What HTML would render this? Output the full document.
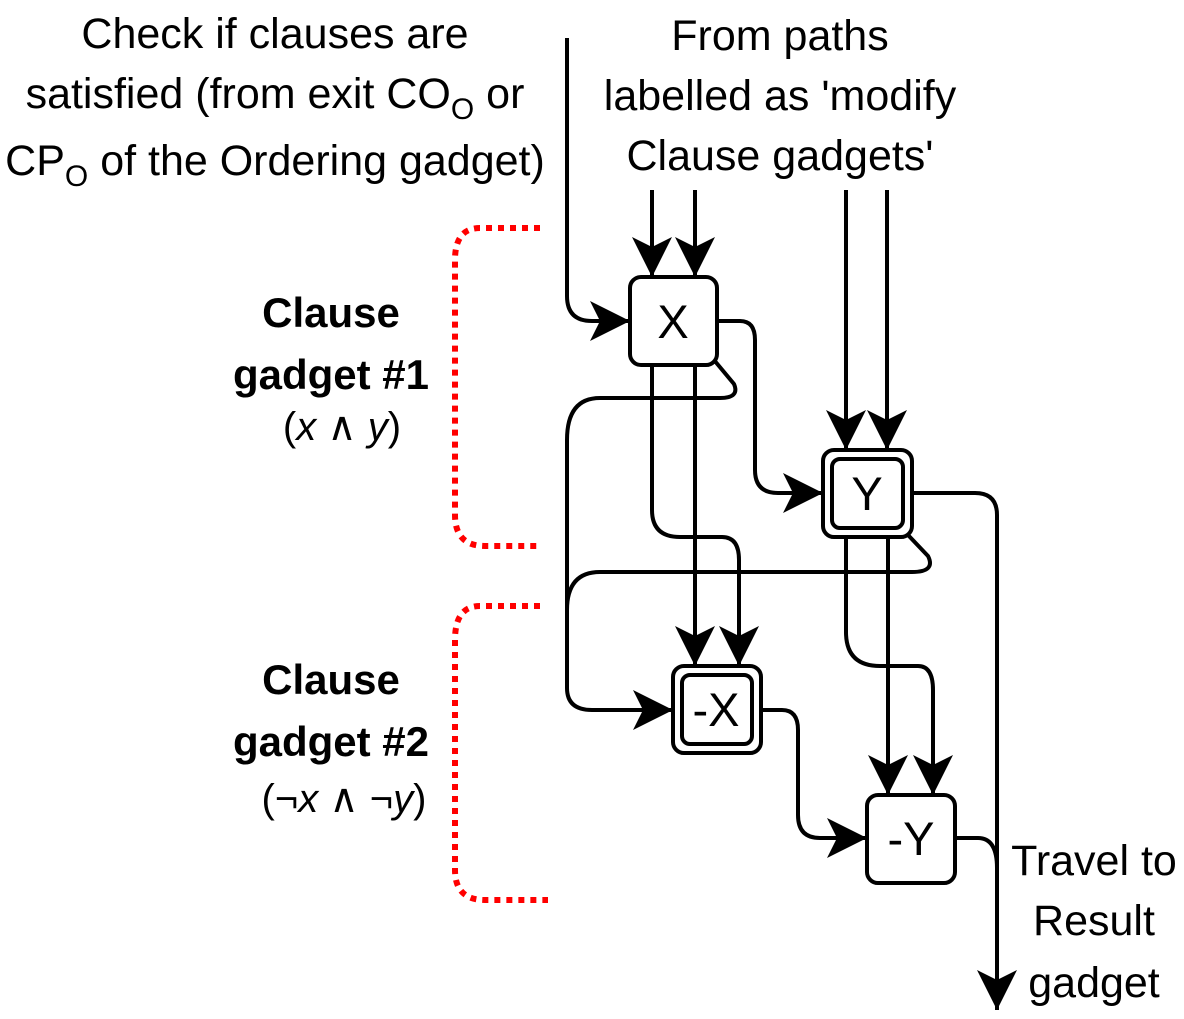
<!DOCTYPE html>
<html><head><meta charset="utf-8"><style>
html,body{margin:0;padding:0;background:#fff;}
svg{display:block;}
text{font-family:"Liberation Sans",sans-serif;fill:#000;}
</style></head><body>
<svg width="1184" height="1019" viewBox="0 0 1184 1019" xmlns="http://www.w3.org/2000/svg">
<defs>
<marker id="a" markerUnits="userSpaceOnUse" markerWidth="44" markerHeight="44" refX="40" refY="22" orient="auto" viewBox="0 0 44 44">
<path d="M0,2 L40,22 L0,42 L10,22 Z" fill="#000"/>
</marker>
</defs>
<g fill="none" stroke="#000" stroke-width="4">
<path d="M567,38 V296 Q567,321 592,321 H630" marker-end="url(#a)"/>
<path d="M652,190 V277" marker-end="url(#a)"/>
<path d="M695,190 V277" marker-end="url(#a)"/>
<path d="M846,190 V450" marker-end="url(#a)"/>
<path d="M887,190 V450" marker-end="url(#a)"/>
<path d="M717,321 H740 Q755,321 755,340 V470 Q755,493 778,493 H823" marker-end="url(#a)"/>
<path d="M714,360 L734,384 Q740,398 720,398 H600 Q567,398 567,440 V688 Q567,710 592,710 H673" marker-end="url(#a)"/>
<path d="M908,535 L928,556 Q936,572 912,572 H600 Q567,572 567,610"/>
<path d="M652,365 V510 Q652,537 680,537 H722 Q739,537 739,560 V666" marker-end="url(#a)"/>
<path d="M695,365 V666" marker-end="url(#a)"/>
<path d="M846,537 V632 Q846,666 880,666 H918 Q933,666 933,690 V795" marker-end="url(#a)"/>
<path d="M888,537 V795" marker-end="url(#a)"/>
<path d="M761,710 H782 Q798,710 798,730 V815 Q798,838 820,838 H867" marker-end="url(#a)"/>
<path d="M912,493 H975 Q997,493 997,515 V1010" marker-end="url(#a)"/>
<path d="M955,838 H978 Q997,838 997,868"/>
<rect x="630" y="277" width="87" height="88" rx="11" fill="#fff"/>
<rect x="823" y="450" width="89" height="87" rx="11" fill="#fff"/>
<rect x="832" y="459" width="71" height="69" rx="8" fill="#fff"/>
<rect x="673" y="666" width="88" height="87" rx="11" fill="#fff"/>
<rect x="682" y="675" width="70" height="69" rx="8" fill="#fff"/>
<rect x="867" y="795" width="88" height="88" rx="11" fill="#fff"/>
</g>
<g fill="none" stroke="#f00" stroke-width="6" stroke-dasharray="6,6">
<path d="M540,228 H480 Q455,228 455,260 V515 Q455,546 485,546 H540"/>
<path d="M540,606 H480 Q455,606 455,640 V870 Q455,900 485,900 H548"/>
</g>
<g font-size="47" text-anchor="middle">
<text x="673" y="338">X</text>
<text x="867" y="510">Y</text>
<text x="716" y="726">-X</text>
<text x="911" y="855">-Y</text>
</g>
<g font-size="43" text-anchor="middle">
<text x="275" y="48">Check if clauses are</text>
<text x="275" y="108">satisfied (from exit CO<tspan font-size="30" dy="11">O</tspan><tspan dy="-11"> or</tspan></text>
<text x="275" y="175">CP<tspan font-size="30" dy="11">O</tspan><tspan dy="-11"> of the Ordering gadget)</tspan></text>
<text x="780" y="50">From paths</text>
<text x="780" y="110">labelled as 'modify</text>
<text x="780" y="170">Clause gadgets'</text>
<text x="1094" y="875">Travel to</text>
<text x="1094" y="935">Result</text>
<text x="1094" y="997">gadget</text>
</g>
<g font-size="42" font-weight="bold" text-anchor="middle">
<text x="331" y="327">Clause</text>
<text x="331" y="389">gadget #1</text>
<text x="331" y="694">Clause</text>
<text x="331" y="756">gadget #2</text>
</g>
<g font-size="40" text-anchor="middle" style="font-family:'Liberation Serif',serif">
<text x="342" y="440">(<tspan font-style="italic">x</tspan> ∧ <tspan font-style="italic">y</tspan>)</text>
<text x="344" y="812">(¬<tspan font-style="italic">x</tspan> ∧ ¬<tspan font-style="italic">y</tspan>)</text>
</g>
</svg>
</body></html>
